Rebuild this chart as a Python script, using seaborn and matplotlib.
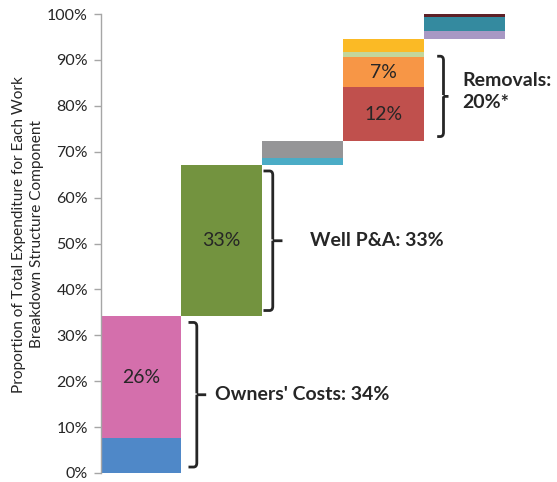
import matplotlib
matplotlib.use("Agg")
import matplotlib.pyplot as plt
from matplotlib.path import Path
from matplotlib.patches import PathPatch
import numpy as np
import pandas as pd
import seaborn as sns

# Work breakdown structure groups (one stacked column each)
groups = ["Owners' Costs", "Well P&A", "Facilities", "Removals", "Remediation"]

# Segment shares (%) per column, bottom to top
seg_group = [0, 0, 1, 2, 2, 3, 3, 3, 3, 4, 4, 4]
seg_value = [7.7, 26.4, 33.0, 1.6, 3.6, 11.7, 6.7, 1.1, 2.8, 1.6, 3.2, 0.6]
seg_color = ["#4F88C8", "#D46FAC", "#73933F", "#4BACC6", "#959597",
             "#C0504D", "#F79646", "#C3D69B", "#FBBA25",
             "#A898C4", "#348A9F", "#5E2027"]
seg_labelled = [False, True, True, False, False, True, True, False, False,
                False, False, False]

# Brace annotations: (first segment, last segment, title)
brace_specs = [(0, 1, "Owners' Costs: "), (2, 2, "Well P&A: "),
               (5, 7, "Removals:\n")]
brace_suffix = ["", "", "*"]

sns.set_theme(style="white")
plt.rcParams["font.family"] = ["Lato", "DejaVu Sans"]

fig = plt.figure(figsize=(5.57, 4.82), dpi=100)
ax = fig.add_axes([100.5 / 557, 1 - 473 / 482, 444.4 / 557, (473 - 14) / 482])

bottoms = np.concatenate([[0], np.cumsum(seg_value)[:-1]])
for i, (g, v, c) in enumerate(zip(seg_group, seg_value, seg_color)):
    df = pd.DataFrame({"group": [groups[g]], "share": [v]})
    sns.barplot(data=df, x="group", y="share", order=groups, color=c,
                width=1.0, bottom=bottoms[i], linewidth=0, saturation=1,
                ax=ax)
    if seg_labelled[i]:
        ax.text(g, bottoms[i] + v / 2, f"{v:.0f}%", ha="center",
                va="center", fontsize=14, color="#262626")

ax.set_xlim(-0.5, 5.0)
ax.set_ylim(0, 100)
ax.set_yticks(np.arange(0, 101, 10))
ax.set_yticklabels([f"{t}%" for t in range(0, 101, 10)], fontsize=11.5,
                   color="#262626")
ax.set_xticks([])
ax.set_xlabel("")
ax.set_ylabel("Proportion of Total Expenditure for Each Work\n"
              "Breakdown Structure Component", fontsize=11.1,
              color="#262626", labelpad=6, linespacing=1.3)
ax.yaxis.set_label_coords(-0.128, 0.52)
for s in ["top", "right", "bottom"]:
    ax.spines[s].set_visible(False)
ax.spines["left"].set_color("#A6A6A6")
ax.spines["left"].set_linewidth(1.0)
ax.tick_params(axis="y", which="major", left=True, length=5, width=1,
               color="#A6A6A6", pad=4)


def draw_brace(xv, xl, xr, y0, y1, ym):
    """Right-facing square brace with rounded corners."""
    r = 0.9
    k = 0.04
    verts = [(xl, y1), (xv - k, y1), (xv, y1), (xv, y1 - r),
             (xv, ym + 0.3), (xv, ym), (xr, ym), (xv, ym),
             (xv, y0 + r), (xv, y0), (xv - k, y0), (xl, y0)]
    codes = [Path.MOVETO, Path.LINETO, Path.CURVE3, Path.CURVE3,
             Path.LINETO, Path.MOVETO, Path.LINETO, Path.MOVETO,
             Path.LINETO, Path.CURVE3, Path.CURVE3, Path.LINETO]
    ax.add_patch(PathPatch(Path(verts, codes), fill=False, lw=2.0,
                           edgecolor="#262626", capstyle="butt",
                           joinstyle="round", clip_on=False))


# brace geometry: (vertical x, tip x, middle tick x, text x, pad)
brace_geom = [(0.692, 0.589, 0.808, 0.92, 1.3),
              (1.632, 1.517, 1.752, 2.087, 1.3),
              (3.745, 3.667, 3.807, 3.98, 1.0)]
for (first, last, title), suffix, (xv, xl, xr, xt, pad) in zip(
        brace_specs, brace_suffix, brace_geom):
    lo = bottoms[first]
    hi = bottoms[last] + seg_value[last]
    total = sum(seg_value[first:last + 1])
    y0, y1 = lo + pad, hi - pad
    ym = (y0 + y1) / 2
    draw_brace(xv, xl, xr, y0, y1, ym)
    ax.text(xt, ym + (1.0 if "\n" in title else 0), f"{title}{total:.0f}%{suffix}",
            ha="left", va="center", fontsize=14, fontweight="bold",
            color="#262626", linespacing=1.35, clip_on=False)

fig.savefig("out.png", dpi=100)
